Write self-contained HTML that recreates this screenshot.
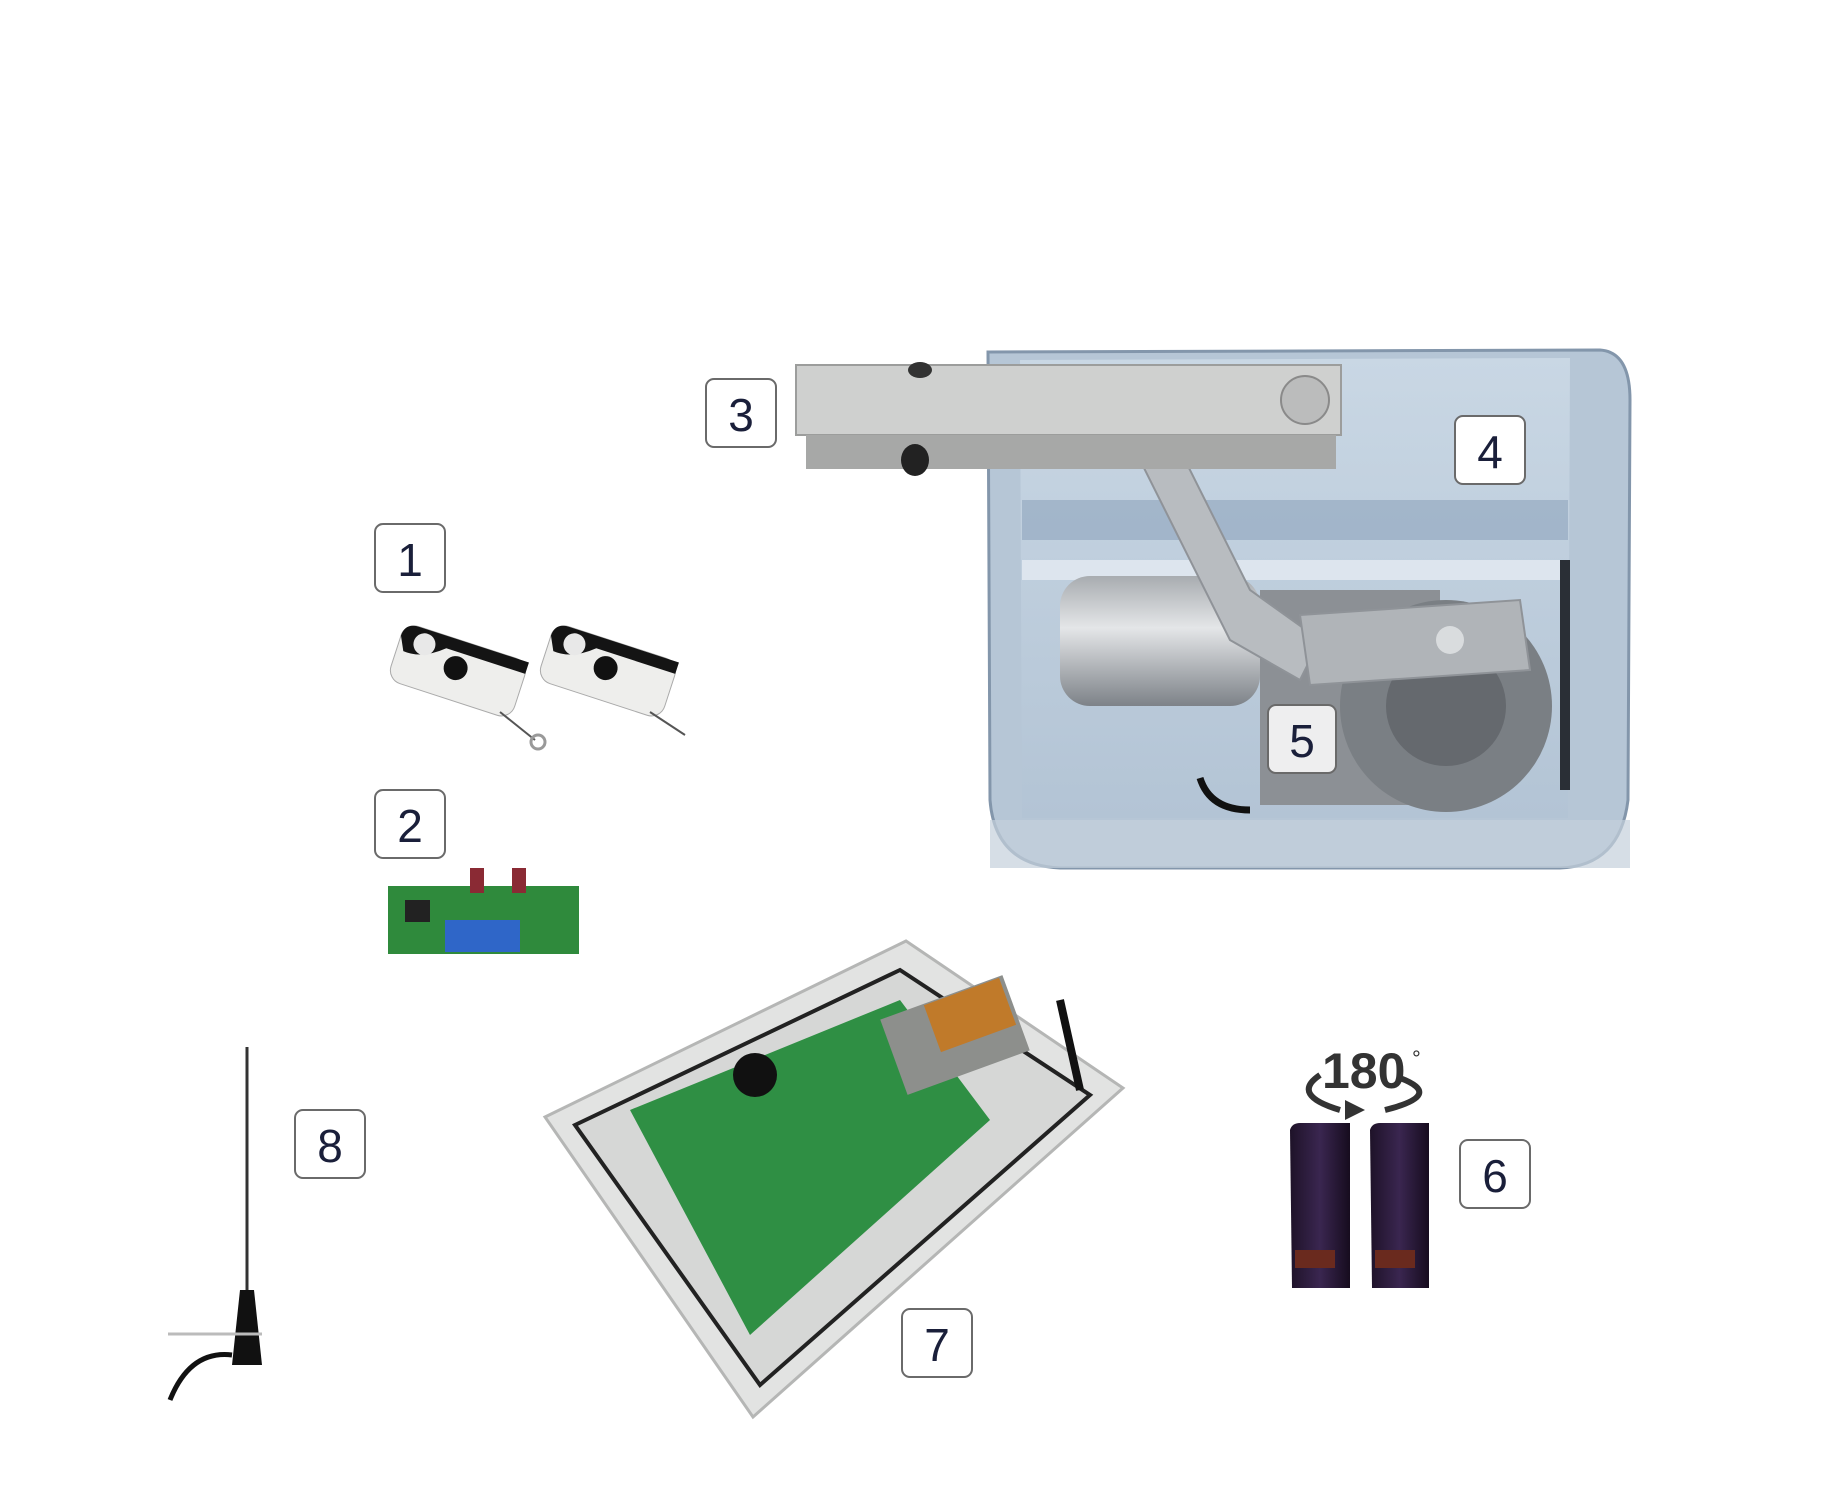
<!DOCTYPE html>
<html><head><meta charset="utf-8"><style>
html,body{margin:0;padding:0;background:#fff}
svg{display:block}
.lbl rect{fill:#fff;stroke:#6a6a6a;stroke-width:2}
.lbl text{font-family:"Liberation Sans",sans-serif;font-size:46px;fill:#1a1f3a;text-anchor:middle}
</style></head><body>
<svg width="1834" height="1500" viewBox="0 0 1834 1500" xmlns="http://www.w3.org/2000/svg">
<defs>
<linearGradient id="box" x1="0" y1="0" x2="0" y2="1"><stop offset="0" stop-color="#c9d7e4"/><stop offset="1" stop-color="#b3c4d5"/></linearGradient>
<linearGradient id="cyl" x1="0" y1="0" x2="0" y2="1"><stop offset="0" stop-color="#a8acb0"/><stop offset=".4" stop-color="#e4e6e8"/><stop offset="1" stop-color="#7d8288"/></linearGradient>
<linearGradient id="pc" x1="0" y1="0" x2="1" y2="0"><stop offset="0" stop-color="#1e1228"/><stop offset=".5" stop-color="#3a2650"/><stop offset="1" stop-color="#160c1e"/></linearGradient>
</defs>

<!-- gate box -->
<path d="M988 352 L1600 350 Q1630 352 1630 400 L1628 800 Q1620 866 1560 868 L1060 868 Q995 865 990 800 Z" fill="#b6c6d6" stroke="#8396ab" stroke-width="3"/>
<path d="M1020 360 L1570 358 L1568 818 L1022 818 Z" fill="url(#box)"/>
<rect x="1022" y="500" width="546" height="40" fill="#8ea4bd" opacity=".6"/>
<rect x="1022" y="560" width="546" height="20" fill="#dde5ee"/>
<rect x="990" y="820" width="640" height="48" fill="#c4d0dc" opacity=".7"/>
<!-- motor -->
<rect x="1060" y="576" width="200" height="130" rx="30" fill="url(#cyl)"/>
<rect x="1260" y="590" width="180" height="215" fill="#8c9095"/>
<circle cx="1446" cy="706" r="106" fill="#7a7f84"/>
<circle cx="1446" cy="706" r="60" fill="#65696e"/>
<path d="M1200 778 Q1210 810 1250 810" stroke="#111" stroke-width="7" fill="none"/>
<rect x="1560" y="560" width="10" height="230" fill="#2a2f36"/>
<!-- lever -->
<path d="M1140 460 L1180 450 L1250 590 L1320 640 L1300 680 L1230 640 Z" fill="#b8bcc0" stroke="#8f9398" stroke-width="2"/>
<path d="M1300 615 L1520 600 L1530 670 L1310 685 Z" fill="#b0b4b8" stroke="#8f9398" stroke-width="2"/>
<circle cx="1450" cy="640" r="14" fill="#d9dcde"/>
<!-- arm -->
<rect x="796" y="365" width="545" height="70" fill="#cfd0cf" stroke="#9c9d9c" stroke-width="2"/>
<rect x="806" y="435" width="530" height="34" fill="#a7a8a7"/>
<circle cx="1305" cy="400" r="24" fill="#bbbcbc" stroke="#8a8a8a" stroke-width="2"/>
<ellipse cx="915" cy="460" rx="14" ry="16" fill="#222"/>
<ellipse cx="920" cy="370" rx="12" ry="8" fill="#333"/>

<!-- remotes -->
<g transform="rotate(18 455 670)"><rect x="393" y="640" width="130" height="60" rx="14" fill="#eeeeec" stroke="#aaa"/><path d="M393 654 Q393 640 408 640 L523 640 L523 652 L440 652 Q420 670 400 668 Z" fill="#141414"/><circle cx="418" cy="655" r="11" fill="#e8e8e8"/><circle cx="455" cy="668" r="12" fill="#111"/></g>
<line x1="500" y1="712" x2="535" y2="740" stroke="#555" stroke-width="2"/><circle cx="538" cy="742" r="7" fill="none" stroke="#999" stroke-width="3"/>
<g transform="rotate(18 605 670)"><rect x="543" y="640" width="130" height="60" rx="14" fill="#eeeeec" stroke="#aaa"/><path d="M543 654 Q543 640 558 640 L673 640 L673 652 L590 652 Q570 670 550 668 Z" fill="#141414"/><circle cx="568" cy="655" r="11" fill="#e8e8e8"/><circle cx="605" cy="668" r="12" fill="#111"/></g>
<line x1="650" y1="712" x2="685" y2="735" stroke="#555" stroke-width="2"/>

<!-- receiver board -->
<rect x="388" y="886" width="191" height="68" fill="#2f8a3c"/>
<rect x="445" y="920" width="75" height="32" fill="#2f66c8"/>
<rect x="470" y="868" width="14" height="25" fill="#8a2a34"/><rect x="512" y="868" width="14" height="25" fill="#8a2a34"/>
<rect x="405" y="900" width="25" height="22" fill="#222"/>

<!-- antenna -->
<line x1="247" y1="1047" x2="247" y2="1330" stroke="#333" stroke-width="3"/>
<path d="M240 1290 L254 1290 L262 1365 L232 1365 Z" fill="#111"/>
<line x1="168" y1="1334" x2="262" y2="1334" stroke="#bbb" stroke-width="3"/>
<path d="M232 1355 Q190 1350 170 1400" stroke="#111" stroke-width="5" fill="none"/>

<!-- control box -->
<polygon points="545,1117 906,941 1123,1088 753,1417" fill="#e2e3e2" stroke="#b5b6b5" stroke-width="3"/>
<polygon points="575,1125 900,970 1090,1095 760,1385" fill="#d6d7d6" stroke="#222" stroke-width="4"/>
<polygon points="630,1110 900,1000 990,1120 750,1335" fill="#2f8f44"/>
<rect x="890" y="995" width="130" height="80" fill="#8d8f8c" transform="rotate(-20 955 1035)"/>
<rect x="930" y="990" width="80" height="50" fill="#c07a2a" transform="rotate(-20 970 1015)"/>
<circle cx="755" cy="1075" r="22" fill="#111"/>
<line x1="1060" y1="1000" x2="1080" y2="1090" stroke="#111" stroke-width="8"/>

<!-- photocells -->
<path d="M1290 1130 Q1292 1123 1300 1123 L1350 1123 L1350 1288 L1292 1288 Z" fill="url(#pc)"/>
<path d="M1370 1130 Q1372 1123 1380 1123 L1429 1123 L1429 1288 L1372 1288 Z" fill="url(#pc)"/>
<rect x="1295" y="1250" width="40" height="18" fill="#6a2a1e"/><rect x="1375" y="1250" width="40" height="18" fill="#6a2a1e"/>
<text x="1322" y="1088" font-family="Liberation Sans,sans-serif" font-size="50" font-weight="bold" fill="#333">180</text>
<text x="1412" y="1066" font-family="Liberation Sans,sans-serif" font-size="22" fill="#333">°</text>
<path d="M1320 1075 Q1290 1095 1340 1110 M1400 1078 Q1445 1095 1385 1110" stroke="#333" stroke-width="6" fill="none"/>
<path d="M1345 1100 L1365 1110 L1345 1120 Z" fill="#333"/>

<!-- labels -->
<g class="lbl">
<rect x="375" y="524" width="70" height="68" rx="8"/><text x="410" y="576">1</text>
<rect x="375" y="790" width="70" height="68" rx="8"/><text x="410" y="842">2</text>
<rect x="706" y="379" width="70" height="68" rx="8"/><text x="741" y="431">3</text>
<rect x="1455" y="416" width="70" height="68" rx="8"/><text x="1490" y="468">4</text>
<rect x="1268" y="705" width="68" height="68" rx="8" fill-opacity=".85"/><text x="1302" y="757">5</text>
<rect x="1460" y="1140" width="70" height="68" rx="8"/><text x="1495" y="1192">6</text>
<rect x="902" y="1309" width="70" height="68" rx="8"/><text x="937" y="1361">7</text>
<rect x="295" y="1110" width="70" height="68" rx="8"/><text x="330" y="1162">8</text>
</g>
</svg>
</body></html>
